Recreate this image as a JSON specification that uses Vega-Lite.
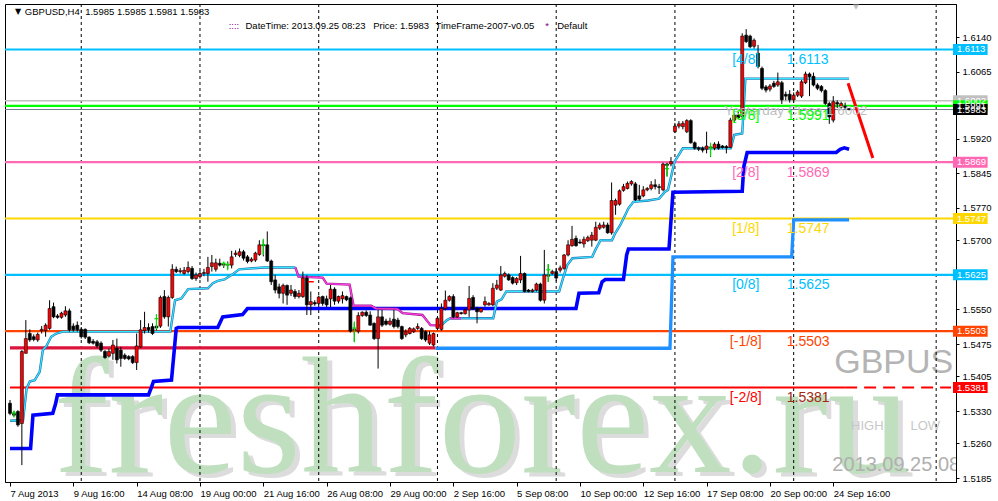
{
"$schema":"https://vega.github.io/schema/vega-lite/v6.json",
"width":951,"height":478,
"autosize":{"type":"none"},
"padding":{"left":5,"top":4,"right":42,"bottom":19},
"background":"white",
"config":{"view":{"stroke":"black","strokeWidth":1},"axis":{"grid":false,"titleFontSize":0}},
"resolve":{"scale":{"color":"independent"}},
"datasets":{
"candles":[
{"i":0,"o":1.5347,"h":1.5354,"l":1.5321,"c":1.5325},{"i":1,"o":1.5325,"h":1.5330,"l":1.5318,"c":1.5321},{"i":2,"o":1.5329,"h":1.5332,"l":1.5296,"c":1.5300},{"i":3,"o":1.5303,"h":1.5462,"l":1.5213,"c":1.5459},{"i":4,"o":1.5455,"h":1.5527,"l":1.5455,"c":1.5487},{"i":5,"o":1.5498,"h":1.5507,"l":1.5480,"c":1.5484},{"i":6,"o":1.5491,"h":1.5496,"l":1.5481,"c":1.5485},{"i":7,"o":1.5484,"h":1.5500,"l":1.5480,"c":1.5496},{"i":8,"o":1.5504,"h":1.5514,"l":1.5498,"c":1.5507},{"i":9,"o":1.5504,"h":1.5520,"l":1.5491,"c":1.5516},
{"i":10,"o":1.5509,"h":1.5570,"l":1.5506,"c":1.5552},{"i":11,"o":1.5556,"h":1.5565,"l":1.5531,"c":1.5534},{"i":12,"o":1.5536,"h":1.5540,"l":1.5530,"c":1.5533},{"i":13,"o":1.5533,"h":1.5545,"l":1.5530,"c":1.5542},{"i":14,"o":1.5538,"h":1.5557,"l":1.5534,"c":1.5547},{"i":15,"o":1.5547,"h":1.5552,"l":1.5502,"c":1.5506},{"i":16,"o":1.5514,"h":1.5520,"l":1.5502,"c":1.5506},{"i":17,"o":1.5516,"h":1.5524,"l":1.5502,"c":1.5506},{"i":18,"o":1.5507,"h":1.5512,"l":1.5487,"c":1.5491},{"i":19,"o":1.5507,"h":1.5509,"l":1.5486,"c":1.5490},
{"i":20,"o":1.5490,"h":1.5492,"l":1.5475,"c":1.5478},{"i":21,"o":1.5481,"h":1.5486,"l":1.5474,"c":1.5477},{"i":22,"o":1.5480,"h":1.5484,"l":1.5467,"c":1.5471},{"i":23,"o":1.5477,"h":1.5481,"l":1.5458,"c":1.5462},{"i":24,"o":1.5459,"h":1.5462,"l":1.5443,"c":1.5446},{"i":25,"o":1.5449,"h":1.5465,"l":1.5446,"c":1.5459},{"i":26,"o":1.5455,"h":1.5484,"l":1.5441,"c":1.5473},{"i":27,"o":1.5466,"h":1.5487,"l":1.5433,"c":1.5441},{"i":28,"o":1.5462,"h":1.5469,"l":1.5426,"c":1.5444},{"i":29,"o":1.5451,"h":1.5455,"l":1.5441,"c":1.5444},
{"i":30,"o":1.5448,"h":1.5451,"l":1.5440,"c":1.5443},{"i":31,"o":1.5448,"h":1.5451,"l":1.5432,"c":1.5435},{"i":32,"o":1.5435,"h":1.5498,"l":1.5419,"c":1.5471},{"i":33,"o":1.5469,"h":1.5527,"l":1.5467,"c":1.5506},{"i":34,"o":1.5504,"h":1.5545,"l":1.5498,"c":1.5511},{"i":35,"o":1.5511,"h":1.5520,"l":1.5500,"c":1.5506},{"i":36,"o":1.5513,"h":1.5520,"l":1.5495,"c":1.5498},{"i":37,"o":1.5514,"h":1.5518,"l":1.5505,"c":1.5510},{"i":38,"o":1.5514,"h":1.5580,"l":1.5510,"c":1.5576},{"i":39,"o":1.5578,"h":1.5592,"l":1.5530,"c":1.5534},
{"i":40,"o":1.5534,"h":1.5580,"l":1.5513,"c":1.5576},{"i":41,"o":1.5576,"h":1.5648,"l":1.5573,"c":1.5637},{"i":42,"o":1.5637,"h":1.5643,"l":1.5629,"c":1.5632},{"i":43,"o":1.5632,"h":1.5640,"l":1.5628,"c":1.5634},{"i":44,"o":1.5628,"h":1.5642,"l":1.5625,"c":1.5635},{"i":45,"o":1.5632,"h":1.5654,"l":1.5628,"c":1.5641},{"i":46,"o":1.5639,"h":1.5644,"l":1.5614,"c":1.5617},{"i":47,"o":1.5617,"h":1.5630,"l":1.5612,"c":1.5625},{"i":48,"o":1.5621,"h":1.5634,"l":1.5617,"c":1.5628},{"i":49,"o":1.5628,"h":1.5638,"l":1.5622,"c":1.5630},
{"i":50,"o":1.5628,"h":1.5664,"l":1.5610,"c":1.5641},{"i":51,"o":1.5643,"h":1.5668,"l":1.5632,"c":1.5651},{"i":52,"o":1.5637,"h":1.5660,"l":1.5632,"c":1.5651},{"i":53,"o":1.5650,"h":1.5660,"l":1.5643,"c":1.5646},{"i":54,"o":1.5646,"h":1.5652,"l":1.5640,"c":1.5648},{"i":55,"o":1.5648,"h":1.5654,"l":1.5638,"c":1.5646},{"i":56,"o":1.5646,"h":1.5677,"l":1.5639,"c":1.5664},{"i":57,"o":1.5669,"h":1.5678,"l":1.5664,"c":1.5672},{"i":58,"o":1.5667,"h":1.5682,"l":1.5663,"c":1.5675},{"i":59,"o":1.5675,"h":1.5679,"l":1.5656,"c":1.5661},
{"i":60,"o":1.5664,"h":1.5668,"l":1.5650,"c":1.5654},{"i":61,"o":1.5655,"h":1.5663,"l":1.5652,"c":1.5659},{"i":62,"o":1.5657,"h":1.5675,"l":1.5653,"c":1.5672},{"i":63,"o":1.5669,"h":1.5700,"l":1.5666,"c":1.5690},{"i":64,"o":1.5690,"h":1.5700,"l":1.5665,"c":1.5688},{"i":65,"o":1.5690,"h":1.5719,"l":1.5653,"c":1.5655},{"i":66,"o":1.5655,"h":1.5658,"l":1.5603,"c":1.5610},{"i":67,"o":1.5614,"h":1.5625,"l":1.5585,"c":1.5592},{"i":68,"o":1.5599,"h":1.5606,"l":1.5574,"c":1.5585},{"i":69,"o":1.5585,"h":1.5606,"l":1.5563,"c":1.5602},
{"i":70,"o":1.5602,"h":1.5604,"l":1.5560,"c":1.5581},{"i":71,"o":1.5585,"h":1.5603,"l":1.5579,"c":1.5592},{"i":72,"o":1.5589,"h":1.5594,"l":1.5573,"c":1.5578},{"i":73,"o":1.5578,"h":1.5592,"l":1.5574,"c":1.5585},{"i":74,"o":1.5578,"h":1.5632,"l":1.5575,"c":1.5618},{"i":75,"o":1.5618,"h":1.5624,"l":1.5538,"c":1.5560},{"i":76,"o":1.5560,"h":1.5589,"l":1.5538,"c":1.5567},{"i":77,"o":1.5565,"h":1.5570,"l":1.5558,"c":1.5562},{"i":78,"o":1.5563,"h":1.5580,"l":1.5560,"c":1.5577},{"i":79,"o":1.5578,"h":1.5580,"l":1.5558,"c":1.5563},
{"i":80,"o":1.5573,"h":1.5580,"l":1.5555,"c":1.5560},{"i":81,"o":1.5573,"h":1.5603,"l":1.5555,"c":1.5594},{"i":82,"o":1.5594,"h":1.5598,"l":1.5560,"c":1.5568},{"i":83,"o":1.5568,"h":1.5580,"l":1.5563,"c":1.5578},{"i":84,"o":1.5573,"h":1.5589,"l":1.5563,"c":1.5580},{"i":85,"o":1.5578,"h":1.5580,"l":1.5568,"c":1.5571},{"i":86,"o":1.5575,"h":1.5578,"l":1.5500,"c":1.5503},{"i":87,"o":1.5505,"h":1.5520,"l":1.5480,"c":1.5508},{"i":88,"o":1.5503,"h":1.5544,"l":1.5498,"c":1.5537},{"i":89,"o":1.5537,"h":1.5546,"l":1.5534,"c":1.5544},
{"i":90,"o":1.5544,"h":1.5548,"l":1.5534,"c":1.5537},{"i":91,"o":1.5538,"h":1.5546,"l":1.5515,"c":1.5516},{"i":92,"o":1.5520,"h":1.5522,"l":1.5484,"c":1.5487},{"i":93,"o":1.5487,"h":1.5549,"l":1.5422,"c":1.5534},{"i":94,"o":1.5534,"h":1.5549,"l":1.5512,"c":1.5516},{"i":95,"o":1.5525,"h":1.5530,"l":1.5515,"c":1.5518},{"i":96,"o":1.5518,"h":1.5532,"l":1.5515,"c":1.5525},{"i":97,"o":1.5529,"h":1.5549,"l":1.5509,"c":1.5513},{"i":98,"o":1.5527,"h":1.5532,"l":1.5509,"c":1.5513},{"i":99,"o":1.5513,"h":1.5515,"l":1.5484,"c":1.5487},
{"i":100,"o":1.5495,"h":1.5507,"l":1.5490,"c":1.5502},{"i":101,"o":1.5498,"h":1.5512,"l":1.5496,"c":1.5509},{"i":102,"o":1.5502,"h":1.5511,"l":1.5499,"c":1.5508},{"i":103,"o":1.5509,"h":1.5520,"l":1.5506,"c":1.5513},{"i":104,"o":1.5509,"h":1.5512,"l":1.5484,"c":1.5487},{"i":105,"o":1.5502,"h":1.5505,"l":1.5480,"c":1.5484},{"i":106,"o":1.5477,"h":1.5503,"l":1.5473,"c":1.5495},{"i":107,"o":1.5473,"h":1.5500,"l":1.5470,"c":1.5498},{"i":108,"o":1.5509,"h":1.5534,"l":1.5505,"c":1.5531},{"i":109,"o":1.5507,"h":1.5563,"l":1.5504,"c":1.5552},
{"i":110,"o":1.5552,"h":1.5591,"l":1.5548,"c":1.5570},{"i":111,"o":1.5570,"h":1.5581,"l":1.5567,"c":1.5578},{"i":112,"o":1.5578,"h":1.5583,"l":1.5531,"c":1.5534},{"i":113,"o":1.5534,"h":1.5545,"l":1.5532,"c":1.5543},{"i":114,"o":1.5543,"h":1.5545,"l":1.5539,"c":1.5541},{"i":115,"o":1.5541,"h":1.5552,"l":1.5539,"c":1.5549},{"i":116,"o":1.5549,"h":1.5601,"l":1.5534,"c":1.5574},{"i":117,"o":1.5576,"h":1.5581,"l":1.5549,"c":1.5552},{"i":118,"o":1.5552,"h":1.5556,"l":1.5520,"c":1.5545},{"i":119,"o":1.5545,"h":1.5554,"l":1.5543,"c":1.5552},
{"i":120,"o":1.5560,"h":1.5578,"l":1.5556,"c":1.5567},{"i":121,"o":1.5560,"h":1.5566,"l":1.5558,"c":1.5563},{"i":122,"o":1.5560,"h":1.5607,"l":1.5557,"c":1.5596},{"i":123,"o":1.5596,"h":1.5614,"l":1.5592,"c":1.5603},{"i":124,"o":1.5592,"h":1.5644,"l":1.5590,"c":1.5625},{"i":125,"o":1.5622,"h":1.5632,"l":1.5619,"c":1.5628},{"i":126,"o":1.5625,"h":1.5628,"l":1.5612,"c":1.5614},{"i":127,"o":1.5619,"h":1.5622,"l":1.5604,"c":1.5607},{"i":128,"o":1.5608,"h":1.5620,"l":1.5603,"c":1.5617},{"i":129,"o":1.5614,"h":1.5666,"l":1.5607,"c":1.5628},
{"i":130,"o":1.5628,"h":1.5630,"l":1.5587,"c":1.5589},{"i":131,"o":1.5592,"h":1.5594,"l":1.5587,"c":1.5589},{"i":132,"o":1.5589,"h":1.5595,"l":1.5587,"c":1.5592},{"i":133,"o":1.5592,"h":1.5608,"l":1.5589,"c":1.5605},{"i":134,"o":1.5605,"h":1.5608,"l":1.5567,"c":1.5570},{"i":135,"o":1.5570,"h":1.5679,"l":1.5563,"c":1.5625},{"i":136,"o":1.5622,"h":1.5648,"l":1.5610,"c":1.5625},{"i":137,"o":1.5628,"h":1.5636,"l":1.5625,"c":1.5632},{"i":138,"o":1.5632,"h":1.5639,"l":1.5611,"c":1.5618},{"i":139,"o":1.5635,"h":1.5645,"l":1.5630,"c":1.5640},
{"i":140,"o":1.5639,"h":1.5670,"l":1.5636,"c":1.5668},{"i":141,"o":1.5668,"h":1.5700,"l":1.5665,"c":1.5690},{"i":142,"o":1.5688,"h":1.5731,"l":1.5686,"c":1.5702},{"i":143,"o":1.5704,"h":1.5710,"l":1.5686,"c":1.5688},{"i":144,"o":1.5696,"h":1.5702,"l":1.5692,"c":1.5694},{"i":145,"o":1.5692,"h":1.5708,"l":1.5684,"c":1.5702},{"i":146,"o":1.5699,"h":1.5710,"l":1.5696,"c":1.5706},{"i":147,"o":1.5700,"h":1.5718,"l":1.5686,"c":1.5711},{"i":148,"o":1.5700,"h":1.5740,"l":1.5698,"c":1.5728},{"i":149,"o":1.5726,"h":1.5738,"l":1.5722,"c":1.5733},
{"i":150,"o":1.5728,"h":1.5740,"l":1.5725,"c":1.5733},{"i":151,"o":1.5733,"h":1.5738,"l":1.5714,"c":1.5716},{"i":152,"o":1.5716,"h":1.5825,"l":1.5712,"c":1.5786},{"i":153,"o":1.5776,"h":1.5790,"l":1.5755,"c":1.5786},{"i":154,"o":1.5778,"h":1.5810,"l":1.5775,"c":1.5807},{"i":155,"o":1.5808,"h":1.5822,"l":1.5805,"c":1.5816},{"i":156,"o":1.5812,"h":1.5827,"l":1.5810,"c":1.5823},{"i":157,"o":1.5822,"h":1.5830,"l":1.5818,"c":1.5827},{"i":158,"o":1.5822,"h":1.5826,"l":1.5785,"c":1.5787},{"i":159,"o":1.5796,"h":1.5820,"l":1.5786,"c":1.5789},
{"i":160,"o":1.5796,"h":1.5817,"l":1.5793,"c":1.5809},{"i":161,"o":1.5809,"h":1.5815,"l":1.5806,"c":1.5812},{"i":162,"o":1.5812,"h":1.5828,"l":1.5808,"c":1.5820},{"i":163,"o":1.5820,"h":1.5832,"l":1.5810,"c":1.5816},{"i":164,"o":1.5816,"h":1.5822,"l":1.5800,"c":1.5814},{"i":165,"o":1.5809,"h":1.5868,"l":1.5806,"c":1.5865},{"i":166,"o":1.5865,"h":1.5868,"l":1.5838,"c":1.5862},{"i":167,"o":1.5865,"h":1.5880,"l":1.5860,"c":1.5870},{"i":168,"o":1.5935,"h":1.5954,"l":1.5932,"c":1.5947},{"i":169,"o":1.5947,"h":1.5958,"l":1.5942,"c":1.5952},
{"i":170,"o":1.5946,"h":1.5958,"l":1.5940,"c":1.5953},{"i":171,"o":1.5935,"h":1.5962,"l":1.5932,"c":1.5959},{"i":172,"o":1.5959,"h":1.5962,"l":1.5909,"c":1.5911},{"i":173,"o":1.5911,"h":1.5914,"l":1.5896,"c":1.5899},{"i":174,"o":1.5900,"h":1.5903,"l":1.5893,"c":1.5897},{"i":175,"o":1.5899,"h":1.5903,"l":1.5890,"c":1.5895},{"i":176,"o":1.5897,"h":1.5935,"l":1.5888,"c":1.5904},{"i":177,"o":1.5902,"h":1.5910,"l":1.5880,"c":1.5900},{"i":178,"o":1.5899,"h":1.5912,"l":1.5895,"c":1.5908},{"i":179,"o":1.5908,"h":1.5914,"l":1.5896,"c":1.5899},
{"i":180,"o":1.5904,"h":1.5906,"l":1.5898,"c":1.5901},{"i":181,"o":1.5903,"h":1.5906,"l":1.5888,"c":1.5900},{"i":182,"o":1.5901,"h":1.5965,"l":1.5899,"c":1.5960},{"i":183,"o":1.5960,"h":1.5975,"l":1.5955,"c":1.5971},{"i":184,"o":1.5971,"h":1.5980,"l":1.5962,"c":1.5965},{"i":185,"o":1.5968,"h":1.6148,"l":1.5963,"c":1.6142},{"i":186,"o":1.6144,"h":1.6157,"l":1.6127,"c":1.6130},{"i":187,"o":1.6142,"h":1.6145,"l":1.6116,"c":1.6119},{"i":188,"o":1.6120,"h":1.6137,"l":1.6115,"c":1.6133},{"i":189,"o":1.6105,"h":1.6123,"l":1.6072,"c":1.6076},
{"i":190,"o":1.6072,"h":1.6076,"l":1.6025,"c":1.6029},{"i":191,"o":1.6032,"h":1.6036,"l":1.6020,"c":1.6025},{"i":192,"o":1.6027,"h":1.6038,"l":1.6022,"c":1.6034},{"i":193,"o":1.6040,"h":1.6045,"l":1.6030,"c":1.6033},{"i":194,"o":1.6036,"h":1.6063,"l":1.6032,"c":1.6043},{"i":195,"o":1.6041,"h":1.6045,"l":1.5995,"c":1.6004},{"i":196,"o":1.6016,"h":1.6022,"l":1.6003,"c":1.6012},{"i":197,"o":1.6016,"h":1.6025,"l":1.5998,"c":1.6004},{"i":198,"o":1.6004,"h":1.6020,"l":1.5998,"c":1.6014},{"i":199,"o":1.6014,"h":1.6025,"l":1.6010,"c":1.6021},
{"i":200,"o":1.6012,"h":1.6047,"l":1.6008,"c":1.6043},{"i":201,"o":1.6041,"h":1.6065,"l":1.6038,"c":1.6060},{"i":202,"o":1.6060,"h":1.6063,"l":1.6012,"c":1.6054},{"i":203,"o":1.6055,"h":1.6063,"l":1.6033,"c":1.6036},{"i":204,"o":1.6036,"h":1.6040,"l":1.6025,"c":1.6029},{"i":205,"o":1.6033,"h":1.6036,"l":1.6020,"c":1.6024},{"i":206,"o":1.6024,"h":1.6027,"l":1.5993,"c":1.5996},{"i":207,"o":1.5996,"h":1.6000,"l":1.5952,"c":1.5967},{"i":208,"o":1.5960,"h":1.6012,"l":1.5955,"c":1.6000},{"i":209,"o":1.5998,"h":1.6003,"l":1.5986,"c":1.5995},
{"i":210,"o":1.5988,"h":1.6000,"l":1.5985,"c":1.5996},{"i":211,"o":1.5990,"h":1.5998,"l":1.5984,"c":1.5987},{"i":212,"o":1.5985,"h":1.5985,"l":1.5981,"c":1.5983}
],
"cyan":[
{"s":1,"i":0,"p":1.5309},{"s":1,"i":3.3,"p":1.5310},{"s":1,"i":4.2,"p":1.5379},{"s":1,"i":5,"p":1.5394},{"s":1,"i":6.25,"p":1.5397},{"s":1,"i":7.5,"p":1.5415},{"s":1,"i":8.3,"p":1.5462},{"s":1,"i":9.2,"p":1.5471},{"s":1,"i":10.4,"p":1.5491},{"s":1,"i":11.7,"p":1.5498},{"s":1,"i":13.3,"p":1.5502},{"s":1,"i":40.5,"p":1.5502},{"s":1,"i":41.7,"p":1.5570},{"s":1,"i":43.3,"p":1.5574},{"s":1,"i":45,"p":1.5594},{"s":1,"i":50,"p":1.5596},{"s":1,"i":51.25,"p":1.5607},{"s":1,"i":52.5,"p":1.5612},{"s":1,"i":54.2,"p":1.5615},{"s":1,"i":56.25,"p":1.5626},{"s":1,"i":57.9,"p":1.5637},{"s":1,"i":64.2,"p":1.5641},{"s":1,"i":72.1,"p":1.5641},
{"s":2,"i":108.75,"p":1.5514},{"s":2,"i":110.4,"p":1.5527},{"s":2,"i":111.25,"p":1.5531},{"s":2,"i":122.1,"p":1.5531},{"s":2,"i":123,"p":1.5567},{"s":2,"i":124.2,"p":1.5572},{"s":2,"i":125.4,"p":1.5589},{"s":2,"i":138.75,"p":1.5589},{"s":2,"i":139.6,"p":1.5614},{"s":2,"i":140.8,"p":1.5646},{"s":2,"i":142.1,"p":1.5661},{"s":2,"i":147.1,"p":1.5664},{"s":2,"i":147.9,"p":1.5679},{"s":2,"i":149.2,"p":1.5700},{"s":2,"i":152.1,"p":1.5700},{"s":2,"i":152.9,"p":1.5715},{"s":2,"i":154.2,"p":1.5733},{"s":2,"i":155,"p":1.5747},{"s":2,"i":156.25,"p":1.5769},{"s":2,"i":157.5,"p":1.5783},{"s":2,"i":161.25,"p":1.5786},{"s":2,"i":164,"p":1.5790},{"s":2,"i":165.5,"p":1.5805},{"s":2,"i":166.25,"p":1.5809},{"s":2,"i":167.9,"p":1.5870},{"s":2,"i":170,"p":1.5899},{"s":2,"i":182.1,"p":1.5899},{"s":2,"i":183,"p":1.5928},{"s":2,"i":185,"p":1.5931},{"s":2,"i":185.8,"p":1.6050},{"s":2,"i":212,"p":1.6050}
],
"mag":[
{"s":1,"i":72.1,"p":1.5641},{"s":1,"i":72.9,"p":1.5621},{"s":1,"i":79,"p":1.5619},{"s":1,"i":80,"p":1.5606},{"s":1,"i":85.8,"p":1.5604},{"s":1,"i":86.8,"p":1.5558},{"s":1,"i":91.25,"p":1.5558},{"s":1,"i":92.5,"p":1.5552},{"s":1,"i":97.9,"p":1.5551},{"s":1,"i":99.2,"p":1.5542},{"s":1,"i":104.2,"p":1.5538},{"s":1,"i":106.25,"p":1.5516},{"s":1,"i":109.2,"p":1.5515},
{"s":2,"i":111.25,"p":1.5531},{"s":2,"i":113.9,"p":1.5531}
],
"blue":[
{"i":0,"p":1.5249},{"i":5.2,"p":1.5249},{"i":5.8,"p":1.5321},{"i":10.8,"p":1.5325},{"i":11.5,"p":1.5345},{"i":12,"p":1.5365},{"i":35,"p":1.5365},{"i":35.8,"p":1.5383},{"i":36.25,"p":1.5394},{"i":40.8,"p":1.5397},{"i":41.5,"p":1.5462},{"i":42,"p":1.5509},{"i":42.5,"p":1.5511},{"i":52.5,"p":1.5511},{"i":53.75,"p":1.5534},{"i":58.75,"p":1.5539},{"i":60,"p":1.5552},{"i":143,"p":1.5552},{"i":143.75,"p":1.5585},{"i":148.75,"p":1.5586},{"i":149.6,"p":1.5610},{"i":150.4,"p":1.5615},{"i":155,"p":1.5615},{"i":155.8,"p":1.5668},{"i":156.25,"p":1.5681},{"i":166.5,"p":1.5681},{"i":167.5,"p":1.5804},{"i":185,"p":1.5806},{"i":185.4,"p":1.5859},{"i":186.25,"p":1.5890},{"i":208.75,"p":1.5890},{"i":209.75,"p":1.5897},{"i":210.8,"p":1.5900},{"i":212,"p":1.5897}
],
"crimson":[{"i":0,"p":1.5467},{"i":107.5,"p":1.5467}],
"dodger":[{"i":107.5,"p":1.5466},{"i":166.75,"p":1.5466},{"i":167.5,"p":1.5664},{"i":197.5,"p":1.5664},{"i":198,"p":1.5744},{"i":212,"p":1.5744}],
"levels":[{"lv":"4/8","p":1.6113},{"lv":"3/8","p":1.5991},{"lv":"2/8","p":1.5869},{"lv":"1/8","p":1.5747},{"lv":"0/8","p":1.5625},{"lv":"-1/8","p":1.5503}],
"murrey":[
{"lv":"4/8","p":1.6113,"b":"[4/8]","n":"1.6113"},{"lv":"3/8","p":1.5991,"b":"[3/8]","n":"1.5991"},{"lv":"2/8","p":1.5869,"b":"[2/8]","n":"1.5869"},{"lv":"1/8","p":1.5747,"b":"[1/8]","n":"1.5747"},{"lv":"0/8","p":1.5625,"b":"[0/8]","n":"1.5625"},{"lv":"-1/8","p":1.5503,"b":"[-1/8]","n":"1.5503"},{"lv":"-2/8","p":1.5381,"b":"[-2/8]","n":"1.5381"}
],
"seps":[{"i":18},{"i":48},{"i":78},{"i":108},{"i":138},{"i":168},{"i":198},{"i":234}],
"arrows":[
{"i":1,"lo":1.5316,"hi":1.5331,"t":1.5326},{"i":37,"lo":1.5507,"hi":1.5540,"t":1.5530},{"i":54,"lo":1.5643,"hi":1.5654,"t":1.5650},{"i":55,"lo":1.5635,"hi":1.5652,"t":1.5647},{"i":64,"lo":1.5668,"hi":1.5703,"t":1.5690},{"i":87,"lo":1.5479,"hi":1.5524,"t":1.5510},{"i":136,"lo":1.5610,"hi":1.5648,"t":1.5636},{"i":166,"lo":1.5838,"hi":1.5865,"t":1.5855},{"i":177,"lo":1.5881,"hi":1.5911,"t":1.5900}
],
"boxes":[
{"k":"1.6113","p":1.6113},{"k":"1.6002","p":1.6002},{"k":"1.5991","p":1.5991},{"k":"1.5983","p":1.5983},{"k":"1.5869","p":1.5869},{"k":"1.5747","p":1.5747},{"k":"1.5625","p":1.5625},{"k":"1.5503","p":1.5503},{"k":"1.5381","p":1.5381}
]
},
"layer":[
{"data":{"values":[{"i":119.25,"p":1.5198,"t":"freshforex.ru"}]},
 "mark":{"type":"text","font":"Liberation Serif","fontSize":165,"align":"center","baseline":"alphabetic","color":"#dcdcdc","dx":5,"dy":4},
 "encoding":{"x":{"field":"i","type":"quantitative","title":null,"scale":{"domain":[0,237.75],"nice":false,"zero":false}},"y":{"field":"p","type":"quantitative","title":null,"scale":{"domain":[1.51764,1.62115],"nice":false,"zero":false}},"text":{"field":"t"}}},
{"data":{"values":[{"i":119.25,"p":1.5198,"t":"freshforex.ru"}]},
 "mark":{"type":"text","font":"Liberation Serif","fontSize":165,"align":"center","baseline":"alphabetic","color":"#bfdfbf"},
 "encoding":{"x":{"field":"i","type":"quantitative","title":null},"y":{"field":"p","type":"quantitative","title":null},"text":{"field":"t"}}},
{"data":{"values":[{"i":208.25,"p":1.54124,"t":"GBPUSD"}]},
 "mark":{"type":"text","font":"Liberation Sans","fontSize":34,"align":"left","baseline":"alphabetic","color":"#b4b4b4","clip":true},
 "encoding":{"x":{"field":"i","type":"quantitative","title":null},"y":{"field":"p","type":"quantitative","title":null},"text":{"field":"t"}}},
{"data":{"values":[{"i":212.5,"p":1.5289,"t":"HIGH"},{"i":227.5,"p":1.5289,"t":"LOW"}]},
 "mark":{"type":"text","font":"Liberation Sans","fontSize":13,"align":"left","baseline":"alphabetic","color":"#c8c8c8","clip":true},
 "encoding":{"x":{"field":"i","type":"quantitative","title":null},"y":{"field":"p","type":"quantitative","title":null},"text":{"field":"t"}}},
{"data":{"values":[{"i":207.75,"p":1.52002,"t":"2013.09.25 08:23"}]},
 "mark":{"type":"text","font":"Liberation Sans","fontSize":20,"align":"left","baseline":"alphabetic","color":"#b0b0b0","clip":true},
 "encoding":{"x":{"field":"i","type":"quantitative","title":null},"y":{"field":"p","type":"quantitative","title":null},"text":{"field":"t"}}},
{"data":{"name":"seps"},
 "mark":{"type":"rule","color":"black","strokeWidth":1,"strokeDash":[3,3]},
 "encoding":{"x":{"field":"i","type":"quantitative","title":null}}},
{"data":{"values":[{"p":1.6002}]},
 "mark":{"type":"rule","color":"#c0c0c0","strokeWidth":1.5},
 "encoding":{"y":{"field":"p","type":"quantitative","title":null}}},
{"data":{"values":[{"p":1.5983}]},
 "mark":{"type":"rule","color":"#708090","strokeWidth":1},
 "encoding":{"y":{"field":"p","type":"quantitative","title":null}}},
{"data":{"name":"levels"},
 "mark":{"type":"rule","strokeWidth":2.2},
 "encoding":{"y":{"field":"p","type":"quantitative","title":null},
  "color":{"field":"lv","type":"nominal","legend":null,"scale":{"domain":["4/8","3/8","2/8","1/8","0/8","-1/8"],"range":["#00bfff","#00ff00","#ff69b4","#ffd700","#00bfff","#ff4500"]}}}},
{"data":{"values":[{"p":1.5381}]},
 "mark":{"type":"rule","color":"#ff0000","strokeWidth":2.2},
 "encoding":{"y":{"field":"p","type":"quantitative","title":null},"x":{"datum":0,"type":"quantitative","title":null},"x2":{"datum":211}}},
{"data":{"values":[{"p":1.5381}]},
 "mark":{"type":"rule","color":"#ff0000","strokeWidth":2.2,"strokeDash":[12,7]},
 "encoding":{"y":{"field":"p","type":"quantitative","title":null},"x":{"datum":211,"type":"quantitative","title":null},"x2":{"datum":237.75}}},
{"data":{"name":"crimson"},
 "mark":{"type":"line","strokeWidth":3.3,"color":"#dc143c"},
 "encoding":{"x":{"field":"i","type":"quantitative","title":null},"y":{"field":"p","type":"quantitative","title":null}}},
{"data":{"name":"dodger"},
 "mark":{"type":"line","strokeWidth":3.3,"color":"#1e90ff"},
 "encoding":{"x":{"field":"i","type":"quantitative","title":null},"y":{"field":"p","type":"quantitative","title":null}}},
{"data":{"name":"blue"},
 "mark":{"type":"line","strokeWidth":3.6,"color":"#0000ff"},
 "encoding":{"x":{"field":"i","type":"quantitative","title":null},"y":{"field":"p","type":"quantitative","title":null}}},
{"data":{"name":"cyan"},
 "mark":{"type":"line","strokeWidth":2.4,"color":"#2a6fb0"},
 "encoding":{"x":{"field":"i","type":"quantitative","title":null},"y":{"field":"p","type":"quantitative","title":null},"detail":{"field":"s","type":"nominal"}}},
{"data":{"name":"cyan"},
 "mark":{"type":"line","strokeWidth":1.2,"color":"#30e8ff"},
 "encoding":{"x":{"field":"i","type":"quantitative","title":null},"y":{"field":"p","type":"quantitative","title":null},"detail":{"field":"s","type":"nominal"}}},
{"data":{"name":"mag"},
 "mark":{"type":"line","strokeWidth":2.4,"color":"#9a1a8a"},
 "encoding":{"x":{"field":"i","type":"quantitative","title":null},"y":{"field":"p","type":"quantitative","title":null},"detail":{"field":"s","type":"nominal"}}},
{"data":{"name":"mag"},
 "mark":{"type":"line","strokeWidth":1.2,"color":"#ff40e8"},
 "encoding":{"x":{"field":"i","type":"quantitative","title":null},"y":{"field":"p","type":"quantitative","title":null},"detail":{"field":"s","type":"nominal"}}},
{"data":{"name":"candles"},
 "mark":{"type":"rule","color":"black","strokeWidth":1},
 "encoding":{
  "x":{"field":"i","type":"quantitative","title":null,"scale":{"domain":[0,237.75],"nice":false,"zero":false},
   "axis":{"title":null,"orient":"bottom","grid":false,"values":[0,16,32,48,64,80,96,112,128,144,160,176,192,208],
    "labelExpr":"['7 Aug 2013','9 Aug 16:00','14 Aug 08:00','19 Aug 00:00','21 Aug 16:00','26 Aug 08:00','29 Aug 00:00','2 Sep 16:00','5 Sep 08:00','10 Sep 00:00','12 Sep 16:00','17 Sep 08:00','20 Sep 00:00','24 Sep 16:00'][round(datum.value/16)]",
    "tickSize":4,"tickColor":"black","domainColor":"black","labelAlign":"left","labelPadding":2,"labelFont":"Liberation Sans","labelFontSize":9.5,"labelColor":"black","labelFlush":false,"labelOverlap":false,"labelBound":false}},
  "y":{"field":"l","type":"quantitative","title":null,"scale":{"domain":[1.51764,1.62115],"nice":false,"zero":false},
   "axis":{"title":null,"orient":"right","grid":false,"values":[1.6140,1.6065,1.5920,1.5845,1.5770,1.5700,1.5550,1.5475,1.5405,1.5330,1.5260,1.5185],"format":".4f",
    "tickSize":3,"tickColor":"black","domainColor":"black","labelPadding":3,"labelFont":"Liberation Sans","labelFontSize":9.5,"labelColor":"black","labelAlign":"left","labelBaseline":"middle","labelOverlap":false,"labelBound":false,"labelFlush":false}},
  "y2":{"field":"h"}}},
{"data":{"name":"candles"},
 "mark":{"type":"bar","width":3,"stroke":"black","strokeWidth":0.6},
 "encoding":{"x":{"field":"i","type":"quantitative","title":null},"y":{"field":"o","type":"quantitative","title":null},"y2":{"field":"c"},
  "fill":{"condition":{"test":"datum.c>=datum.o","value":"#ff0000"},"value":"#000000"}}},
{"data":{"name":"arrows"},
 "mark":{"type":"rule","color":"#00dd00","strokeWidth":1.2},
 "encoding":{"x":{"field":"i","type":"quantitative","title":null},"y":{"field":"lo","type":"quantitative","title":null},"y2":{"field":"hi"}}},
{"data":{"name":"arrows"},
 "mark":{"type":"rule","color":"#00dd00","strokeWidth":1.2,"xOffset":-2,"x2Offset":2},
 "encoding":{"x":{"field":"i","type":"quantitative","title":null},"x2":{"field":"i"},"y":{"field":"t","type":"quantitative","title":null}}},
{"data":{"values":[{"i":76,"p":1.5610}]},
 "mark":{"type":"rule","color":"#ff0000","strokeWidth":1.5,"xOffset":-3,"x2Offset":3},
 "encoding":{"x":{"field":"i","type":"quantitative","title":null},"x2":{"field":"i"},"y":{"field":"p","type":"quantitative","title":null}}},
{"data":{"values":[{"i":211.75,"p":1.6040},{"i":218,"p":1.5878}]},
 "mark":{"type":"line","color":"#ff0000","strokeWidth":3},
 "encoding":{"x":{"field":"i","type":"quantitative","title":null},"y":{"field":"p","type":"quantitative","title":null}}},
{"data":{"values":[{"i":180.5,"p":1.6002,"t":"Yesterday Close 1.6002"}]},
 "mark":{"type":"text","font":"Liberation Sans","fontSize":13.5,"align":"left","baseline":"alphabetic","dy":14,"color":"#c0c0c0"},
 "encoding":{"x":{"field":"i","type":"quantitative","title":null},"y":{"field":"p","type":"quantitative","title":null},"text":{"field":"t"}}},
{"data":{"name":"murrey"},
 "mark":{"type":"text","font":"Liberation Sans","fontSize":14,"align":"center","baseline":"alphabetic","dy":14.5},
 "encoding":{"x":{"datum":185.9,"type":"quantitative","title":null},"y":{"field":"p","type":"quantitative","title":null},"text":{"field":"b"},
  "color":{"field":"lv","type":"nominal","legend":null,"scale":{"domain":["4/8","3/8","2/8","1/8","0/8","-1/8","-2/8"],"range":["#00bfff","#00ff00","#ff69b4","#ffd700","#00bfff","#ff4500","#ff0000"]}}}},
{"data":{"name":"murrey"},
 "mark":{"type":"text","font":"Liberation Sans","fontSize":14,"align":"left","baseline":"alphabetic","dy":14.5},
 "encoding":{"x":{"datum":196.25,"type":"quantitative","title":null},"y":{"field":"p","type":"quantitative","title":null},"text":{"field":"n"},
  "color":{"field":"lv","type":"nominal","legend":null,"scale":{"domain":["4/8","3/8","2/8","1/8","0/8","-1/8","-2/8"],"range":["#00bfff","#00ff00","#ff69b4","#ffd700","#00bfff","#ff4500","#a02a10"]}}}},
{"data":{"values":[{"i":1.25,"p":1.61941,"t":"▼"}]},
 "mark":{"type":"text","font":"DejaVu Sans","fontSize":8,"align":"left","baseline":"middle","color":"black"},
 "encoding":{"x":{"field":"i","type":"quantitative","title":null},"y":{"field":"p","type":"quantitative","title":null},"text":{"field":"t"}}},
{"data":{"values":[{"i":3.75,"p":1.61941,"t":"GBPUSD,H4"},{"i":19,"p":1.61941,"t":"1.5985 1.5985 1.5981 1.5983"},{"i":59.5,"p":1.61638,"t":"DateTime: 2013.09.25 08:23"},{"i":91.75,"p":1.61638,"t":"Price: 1.5983"},{"i":107.5,"p":1.61638,"t":"TimeFrame-2007-v0.05"},{"i":138.25,"p":1.61638,"t":"Default"}]},
 "mark":{"type":"text","font":"Liberation Sans","fontSize":9.5,"align":"left","baseline":"middle","color":"black"},
 "encoding":{"x":{"field":"i","type":"quantitative","title":null},"y":{"field":"p","type":"quantitative","title":null},"text":{"field":"t"}}},
{"data":{"values":[{"i":55.25,"p":1.61638,"t":"::::"},{"i":135.25,"p":1.61638,"t":"*"}]},
 "mark":{"type":"text","font":"Liberation Sans","fontSize":9.5,"align":"left","baseline":"middle","color":"#800080"},
 "encoding":{"x":{"field":"i","type":"quantitative","title":null},"y":{"field":"p","type":"quantitative","title":null},"text":{"field":"t"}}},
{"data":{"values":[{"i":213.75,"p":1.6205}]},
 "mark":{"type":"point","shape":"triangle-down","size":40,"filled":true,"color":"#a8a8a8"},
 "encoding":{"x":{"field":"i","type":"quantitative","title":null},"y":{"field":"p","type":"quantitative","title":null}}},
{"data":{"name":"boxes"},
 "mark":{"type":"rect","yOffset":-5.5,"y2Offset":5.5},
 "encoding":{"x":{"datum":238.25,"type":"quantitative","title":null},"x2":{"datum":247},"y":{"field":"p","type":"quantitative","title":null},"y2":{"field":"p"},
  "color":{"field":"k","type":"nominal","legend":null,"scale":{"domain":["1.6113","1.6002","1.5991","1.5983","1.5869","1.5747","1.5625","1.5503","1.5381"],"range":["#00bfff","#c0c0c0","#00ff00","#000000","#ff69b4","#ffd700","#00bfff","#ff4500","#ff0000"]}}}},
{"data":{"name":"boxes"},
 "mark":{"type":"text","font":"Liberation Sans","fontSize":9.5,"align":"left","baseline":"middle","color":"white"},
 "encoding":{"x":{"datum":239.25,"type":"quantitative","title":null},"y":{"field":"p","type":"quantitative","title":null},"text":{"field":"k"}}}
]
}
